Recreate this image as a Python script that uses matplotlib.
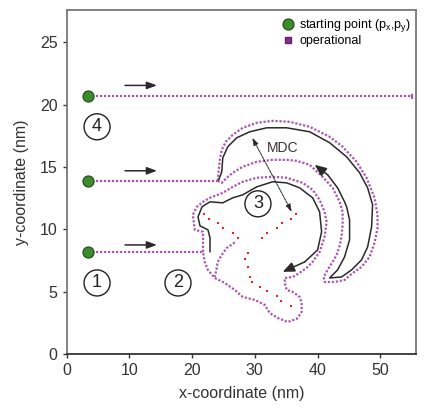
import matplotlib
matplotlib.use("Agg")
import matplotlib.pyplot as plt
from matplotlib.lines import Line2D
import numpy as np

plt.rcParams['font.family'] = ['Liberation Sans', 'DejaVu Sans']

# ---------------- data (nm) ----------------
start_x = [3.4, 3.4, 3.4]
start_y = [8.19, 13.9, 20.72]

path1_x = [3.4, 21.74]
path1_y = [8.19, 8.19]
path2_x = [3.4, 24.09]
path2_y = [13.9, 13.9]
path4_x = [3.4, 55.1, 55.1, 55.1]
path4_y = [20.72, 20.72, 20.55, 20.95]

# outer crescent contour of operational points
crescent_x = [24.09, 24.25, 24.41, 24.73, 25.37, 26.48, 28.07, 30.30, 32.85, 35.56,
              38.74, 41.93, 44.00, 46.23, 47.82, 49.09, 49.57, 49.57, 49.09, 48.30,
              47.02, 45.43, 44.31, 42.72, 41.13, 40.97, 41.61, 42.41, 43.04, 43.52,
              43.84, 44.00, 44.00, 43.52, 42.41, 40.80, 38.74, 36.67, 35.08, 32.85,
              30.30, 28.07, 26.48, 25.53, 24.73, 24.09]
crescent_y = [13.90, 14.78, 15.58, 16.39, 17.03, 17.59, 18.15, 18.55, 18.71, 18.63,
              18.23, 17.43, 16.63, 15.42, 14.14, 12.53, 11.16, 10.12, 8.92, 7.79,
              6.99, 6.43, 5.94, 5.78, 5.78, 6.18, 6.75, 7.39, 7.95, 8.67,
              9.48, 10.36, 11.41, 12.21, 13.33, 14.22, 15.18, 15.50, 15.58, 15.58,
              15.42, 15.02, 14.54, 14.14, 13.73, 13.90]

# contour around the Y-shaped pocket
ring_x = [21.74, 21.74, 21.74, 20.43, 20.11, 20.75, 21.74, 22.82, 24.89, 26.48,
          28.07, 30.30, 32.85, 35.08, 37.64, 39.22, 40.33, 41.13, 41.45, 41.13,
          40.33, 39.22, 38.26, 37.15, 36.04, 34.77, 34.77, 35.08, 36.04, 37.15,
          37.47, 37.47, 36.67, 35.24, 33.64, 32.37, 31.58, 29.99, 28.07, 26.80,
          25.21, 23.62, 22.50, 22.02, 21.74]
ring_y = [8.19, 9.16, 9.80, 9.96, 11.16, 11.81, 12.21, 12.53, 12.93, 13.41,
          13.82, 14.14, 14.22, 14.14, 13.73, 13.17, 12.37, 11.41, 10.60, 9.40,
          8.19, 7.39, 6.91, 6.51, 6.18, 6.10, 5.70, 5.14, 4.98, 4.58,
          4.10, 3.37, 2.81, 2.57, 2.89, 3.29, 3.94, 4.34, 4.58, 5.14,
          5.70, 6.10, 6.75, 7.39, 8.19]

inner_x = [26.8, 26.48, 25.53, 24.73, 24.09, 23.93, 23.62]
inner_y = [8.95, 8.84, 8.51, 7.95, 7.39, 6.91, 6.18]

# red points of the pocket (Y shape)
red_x = [21.9, 22.7, 24.1, 24.9, 26.5, 27.3,
         28.9, 28.4, 28.9, 29.2, 29.5, 30.9, 31.9, 33.5, 34.1, 35.7,
         36.5, 35.7, 34.3, 33.5, 31.9, 31.1]
red_y = [11.24, 10.84, 10.52, 10.12, 9.72, 9.32,
         8.11, 7.63, 6.99, 6.18, 5.78, 5.38, 5.06, 4.66, 4.26, 3.86,
         11.24, 10.84, 10.52, 10.12, 9.72, 9.32]

# black curved arrows
arrowA_x = [24.25, 24.73, 24.89, 25.69, 27.12, 29.19, 31.90, 35.08, 38.74, 41.93,
            44.64, 46.71, 47.99, 48.78, 48.62, 47.99, 47.02, 45.43, 43.84, 41.93,
            43.20, 44.31, 45.11, 45.11, 44.64, 44.31, 43.20, 41.61, 39.55]
arrowA_y = [13.98, 14.62, 15.74, 16.63, 17.35, 17.83, 18.15, 18.15, 17.83, 16.95,
            15.82, 14.54, 13.33, 11.97, 10.20, 8.59, 7.55, 6.75, 6.18, 6.10,
            6.75, 7.79, 9.16, 10.76, 11.81, 12.21, 13.33, 14.38, 15.18]
arrowB_x = [22.85, 22.85, 22.53, 21.26, 20.94, 21.58, 22.85, 24.89, 26.48, 28.07,
            30.30, 32.85, 35.08, 37.15, 39.22, 40.33, 40.65, 40.01, 37.96, 34.45]
arrowB_y = [8.19, 9.32, 9.96, 10.28, 11.00, 11.81, 12.21, 12.13, 12.53, 12.77,
            13.41, 13.82, 13.73, 13.33, 12.53, 11.41, 9.80, 8.35, 7.39, 6.59]

straight_arrow_x0 = [9.3, 9.3, 9.3]
straight_arrow_x1 = [14.4, 14.4, 14.4]
straight_arrow_y = [8.75, 14.7, 21.55]

mdc_start = (29.6, 17.35)
mdc_end = (35.88, 11.41)

labels = ['1', '2', '3', '4']
label_x = [4.84, 17.75, 30.5, 4.84]
label_y = [5.70, 5.70, 12.05, 18.23]

xticks = [0, 10, 20, 30, 40, 50]
yticks = [0, 5, 10, 15, 20, 25]

# ---------------- drawing ----------------
fig = plt.figure(figsize=(4.27, 4.09), dpi=100)
ax = fig.add_axes([0.1562, 0.1345, 0.818, 0.841])

purple = '#ab55b3'
ls_op = (0, (1, 0.8))
lw_op = 1.6
for xs, ys in [(path1_x, path1_y), (path2_x, path2_y), (path4_x, path4_y),
               (crescent_x, crescent_y), (ring_x, ring_y), (inner_x, inner_y)]:
    ax.plot(xs, ys, color=purple, lw=lw_op, linestyle=ls_op, zorder=2)

ax.scatter(red_x, red_y, marker='s', s=3, color='#ff1a1a', linewidths=0, zorder=3)

black = '#2a2a2a'
for xs, ys in [(arrowA_x, arrowA_y), (arrowB_x, arrowB_y)]:
    ax.plot(xs[:-1], ys[:-1], color=black, lw=1.1, zorder=4, solid_capstyle='round')
    ax.annotate('', xy=(xs[-1], ys[-1]), xytext=(xs[-2], ys[-2]),
                arrowprops=dict(arrowstyle='-|>,head_length=0.7,head_width=0.3',
                                color=black, lw=1.1, shrinkA=0, shrinkB=0), zorder=4)

for x0, x1, y in zip(straight_arrow_x0, straight_arrow_x1, straight_arrow_y):
    ax.annotate('', xy=(x1, y), xytext=(x0, y),
                arrowprops=dict(arrowstyle='-|>,head_length=0.6,head_width=0.22',
                                color=black, lw=1.1, shrinkA=0, shrinkB=0))

ax.annotate('', xy=mdc_end, xytext=mdc_start,
            arrowprops=dict(arrowstyle='<|-|>,head_length=0.45,head_width=0.15',
                            color=black, lw=0.7, linestyle=(0, (3, 1)),
                            shrinkA=0, shrinkB=0))
ax.text(34.45, 16.55, 'MDC', fontsize=10, color='#333333', ha='center', va='center')

for t, x, y in zip(labels, label_x, label_y):
    ax.text(x, y, t, fontsize=13, ha='center', va='center', color='#222222',
            bbox=dict(boxstyle='circle,pad=0.25', fc='white', ec='#222222', lw=1.0),
            zorder=5)

ax.plot(start_x, start_y, 'o', color='#3c8c2e', mec='#1e4a18', mew=0.8, ms=8, zorder=6)

handles = [Line2D([], [], marker='o', ls='none', color='#3c8c2e', mec='#1e4a18',
                  mew=0.8, ms=8),
           Line2D([], [], marker='s', ls='none', color='#8a2c8e', mec='#6a1f6e',
                  ms=5)]
ax.legend(handles, [r'starting point (p$_{\mathregular{x}}$,p$_{\mathregular{y}}$)',
                    'operational'],
          loc='upper right', bbox_to_anchor=(1.01, 1.005), frameon=False,
          fontsize=9, handletextpad=0.3, labelspacing=0.1, borderaxespad=0.3,
          handlelength=1.2)

ax.set_xlim(0, 55.7)
ax.set_ylim(0, 27.6)
ax.set_xticks(xticks)
ax.set_yticks(yticks)
ax.tick_params(labelsize=11.5, colors='#333333', length=3, width=1, direction='out')
for s in ['left', 'top', 'right']:
    ax.spines[s].set_color('#777777')
    ax.spines[s].set_linewidth(1.3)
ax.spines['bottom'].set_color('#222222')
ax.spines['bottom'].set_linewidth(1.2)
ax.set_xlabel('x-coordinate (nm)', fontsize=11.5, color='#333333', labelpad=6)
ax.set_ylabel('y-coordinate (nm)', fontsize=11.5, color='#333333', labelpad=8)

fig.savefig('out.png', dpi=100)
